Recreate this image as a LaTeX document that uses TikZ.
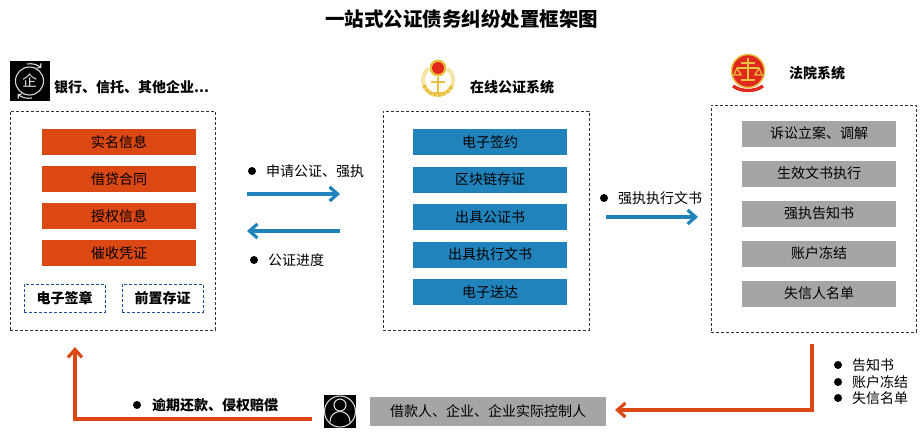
\documentclass[tikz,border=0pt]{standalone}
\usepackage{fontspec}
\setmainfont{Noto Sans CJK SC}
\usetikzlibrary{matrix,arrows.meta}
\definecolor{orangebar}{HTML}{DC4814}
\definecolor{bluebar}{HTML}{2083BC}
\definecolor{graybar}{HTML}{A5A5A5}
\definecolor{dashblue}{HTML}{1F4E9C}
\definecolor{gold}{HTML}{E8C040}
\definecolor{paleyellow}{HTML}{F5E6A8}
\definecolor{sealred}{HTML}{E0281C}
\tikzset{
  txt/.style={font=\fontsize{14}{15}\selectfont, inner sep=0pt},
  head/.style={txt, font=\fontsize{14}{15}\selectfont\bfseries},
  bar/.style={txt, minimum width=154pt, minimum height=26pt, anchor=center},
  outer/.style={draw=black!80, densely dashed, line width=0.7pt},
  small/.style={draw=dashblue, densely dashed, line width=0.8pt, head, minimum width=81pt, minimum height=28pt},
  dot/.style={circle, fill=black, inner sep=0pt, minimum size=8pt},
  bluearrow/.style={->, draw=bluebar, line width=3.2pt},
  orangearrow/.style={->, draw=orangebar, line width=3.2pt},
  iconline/.style={draw=white!85!black, line width=1.1pt},
  >={Straight Barb[length=8pt,width=14pt]}
}
\begin{document}
\begin{tikzpicture}[x=1pt,y=-1pt]
  \useasboundingbox (0,0) rectangle (923,431);
  \node [txt, font=\fontsize{19.5}{22}\selectfont\bfseries] (title) at (461.5,19) {一站式公证债务纠纷处置框架图};

  % outer boxes
  \node [outer, minimum width=205pt, minimum height=219pt, inner sep=0pt] (left) at (112.5,220.5) {};
  \node [outer, minimum width=206pt, minimum height=219pt, inner sep=0pt] (mid) at (486,220.5) {};
  \node [outer, minimum width=205pt, minimum height=227pt, inner sep=0pt] (right) at (813.5,218.5) {};

  % stacks
  \matrix (a) [matrix of nodes, row sep=11pt, nodes={bar, fill=orangebar}] at (119,197.5)
  {
    实名信息 \\
    借贷合同 \\
    授权信息 \\
    催收凭证 \\
  };
  \matrix (b) [matrix of nodes, row sep=11.5pt, nodes={bar, fill=bluebar}] at (490,217)
  {
    电子签约 \\
    区块链存证 \\
    出具公证书 \\
    出具执行文书 \\
    电子送达 \\
  };
  \matrix (c) [matrix of nodes, row sep=14pt, nodes={bar, fill=graybar}] at (819,213.5)
  {
    诉讼立案、调解 \\
    生效文书执行 \\
    强执告知书 \\
    账户冻结 \\
    失信人名单 \\
  };
  \node [small] (sign) at (64.5,298) {电子签章};
  \node [small] (store) at (162.5,298) {前置存证};

  % logos
  \node [fill=black, minimum size=40pt, inner sep=0pt] (logoa) at (30,81) {};
  \draw [iconline] (29.5,81) circle (14);
  \draw [iconline, ->, >={Straight Barb[length=2.5pt,width=6pt]}] (27,64) arc (-100:-50:17.5);
  \draw [iconline, ->, >={Straight Barb[length=2.5pt,width=6pt]}] (32,98) arc (80:130:17.5);
  \node [txt, text=white!90!black, font=\fontsize{15}{15}\selectfont] (logoatext) at (29.5,81) {企};
  \node [head, anchor=west] (lefthead) at (54,87) {银行、信托、其他企业...};

  \draw [paleyellow, line width=4pt] (428.4,68.5) arc (-130:-410:15);
  \draw [gold, line width=3.5pt, densely dotted] (423.9,85.1) arc (160:20:15);
  \node [circle, fill=gold, minimum size=17pt, inner sep=0pt] (logobring) at (438,68) {};
  \node [circle, fill=sealred, minimum size=12pt, inner sep=0pt] (logob) at (438,68) {};
  \draw [gold, line width=1.4pt] (438,77) -- (438,93) (431,82) -- (445,82) (433,93) -- (443,93);
  \node [head, anchor=west] (midhead) at (470,87) {在线公证系统};

  \node [circle, fill=sealred, draw=gold, line width=1.5pt, minimum size=33pt, inner sep=0pt] (logoc) at (748,71) {};
  \draw [gold, line width=2pt] (748,58) -- (748,80) (741,63) -- (755,63) (737,68) -- (759,68);
  \draw [gold, line width=1.2pt] (737,68) -- (734,75) -- (741,75) -- cycle (759,68) -- (755,75) -- (762,75) -- cycle;
  \draw [gold, line width=2pt] (741,80) -- (755,80);
  \draw [sealred, line width=3.4pt] (733,86) .. controls (741,92) and (755,92) .. (763,86);
  \node [head, anchor=west] (righthead) at (789,73) {法院系统};

  % labels
  \node [dot] (d1) at (252,171) {};
  \node [txt, anchor=west] (l1) at (266,171) {申请公证、强执};
  \node [dot] (d2) at (254,260) {};
  \node [txt, anchor=west] (l2) at (268,260) {公证进度};
  \node [dot] (d3) at (604,198) {};
  \node [txt, anchor=west] (l3) at (618,198) {强执执行文书};
  \node [dot] (d4) at (838,365) {};
  \node [txt, anchor=west] (l4) at (852,365) {告知书};
  \node [dot] (d5) at (838,382) {};
  \node [txt, anchor=west] (l5) at (852,382) {账户冻结};
  \node [dot] (d6) at (838,398) {};
  \node [txt, anchor=west] (l6) at (852,398) {失信名单};
  \node [dot] (d7) at (137,405) {};
  \node [head, anchor=west] (l7) at (152,405) {逾期还款、侵权赔偿};

  % borrower
  \node [fill=black, minimum width=32pt, minimum height=33pt, inner sep=0pt] (person) at (340,411.5) {};
  \draw [iconline] (340,411.5) circle (15.5);
  \draw [iconline] (340,405) circle (6);
  \draw [iconline] (330,422) .. controls (330,408) and (350,408) .. (350,422);
  \node [txt, fill=graybar, minimum width=236pt, minimum height=29pt] (borrower) at (488,411.5) {借款人、企业、企业实际控制人};

  % arrows
  \coordinate (p1) at (247,194);
  \coordinate (p2) at (340,194);
  \coordinate (p3) at (340,231);
  \coordinate (p4) at (247,231);
  \coordinate (p5) at (606,217);
  \coordinate (p6) at (698,217);
  \coordinate (p7) at (812,344);
  \coordinate (p8) at (615,410);
  \coordinate (p9) at (312,419);
  \coordinate (p10) at (75,347);
  \path
  (p1) edge [bluearrow] (p2)
  (p3) edge [bluearrow] (p4)
  (p5) edge [bluearrow] (p6)
  ;
  \draw [orangearrow] (p7) |- (p8);
  \draw [orangearrow] (p9) -| (p10);
\end{tikzpicture}
\end{document}
